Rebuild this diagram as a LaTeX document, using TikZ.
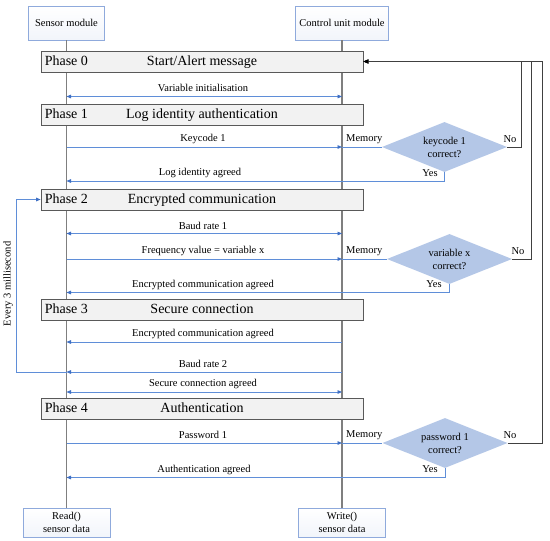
\documentclass[tikz,border=0pt]{standalone}
\usepackage{fontspec}
\setmainfont{Liberation Serif}
\usetikzlibrary{arrows.meta,shapes.geometric}
\definecolor{msgblue}{HTML}{5F8ED8}
\definecolor{tipblue}{HTML}{3E6FC4}
\definecolor{dia}{HTML}{B4C7E7}
\definecolor{barfill}{HTML}{F2F2F2}
\definecolor{bardraw}{HTML}{595959}
\definecolor{life}{HTML}{7F7F7F}
\definecolor{boxblue}{HTML}{8FAADC}
\definecolor{loopgray}{HTML}{404040}
\begin{document}
\begin{tikzpicture}[x=1pt,y=-1pt,
  module/.style={draw=boxblue, line width=0.9pt, top color=white, bottom color=boxblue!12,
     minimum height=34pt, align=center, inner sep=0pt, font=\fontsize{10.5}{12.5}\selectfont},
  phasebar/.style={draw=bardraw, fill=barfill, line width=0.8pt, minimum width=322pt,
     minimum height=21pt, inner sep=0pt},
  phtxt/.style={font=\fontsize{14}{16}\selectfont, inner sep=0pt, text height=10pt, text depth=3pt},
  lbl/.style={font=\fontsize{10.5}{12}\selectfont, inner sep=0pt},
  lifeline/.style={draw=life, line width=1.1pt},
  msg/.style={draw=msgblue, line width=0.9pt},
  tip/.style={-{Triangle[length=4.5pt,width=3.6pt,color=tipblue]}},
  btip/.style={{Triangle[length=4.5pt,width=3.6pt,color=tipblue]}-{Triangle[length=4.5pt,width=3.6pt,color=tipblue]}},
  decision/.style={diamond, shape aspect=2.5, fill=dia, minimum width=125pt, minimum height=50pt,
     inner sep=0pt, align=center, font=\fontsize{10.5}{13}\selectfont},
  noloop/.style={draw=loopgray, line width=0.9pt, -{Triangle[length=5pt,width=4pt,color=black]}}
]
\useasboundingbox (0,0) rectangle (550,541);

% modules
\node[module, minimum width=76pt] (sm) at (66.5,23) {Sensor module};
\node[module, minimum width=93pt] (cm) at (342,23) {Control unit module};
\node[module, minimum width=87pt, minimum height=29pt] (rd) at (66.5,522.5) {Read()\\sensor data};
\node[module, minimum width=87pt, minimum height=29pt] (wr) at (342,522.5) {Write()\\sensor data};

% lifelines
\draw[lifeline] (sm.south) -- (rd.north);
\draw[lifeline] (cm.south) -- (wr.north);

% phase bars
\node[phasebar] (ph0) at (202,61.5) {};
\node[phasebar] (ph1) at (202,114.5) {};
\node[phasebar] (ph2) at (202,199.5) {};
\node[phasebar] (ph3) at (202,310) {};
\node[phasebar] (ph4) at (202,409) {};
\node[phtxt, anchor=west] (ph0l) at ([xshift=4pt]ph0.west) {Phase 0};
\node[phtxt] (ph0t) at (202,61.5) {Start/Alert message};
\node[phtxt, anchor=west] (ph1l) at ([xshift=4pt]ph1.west) {Phase 1};
\node[phtxt] (ph1t) at (202,114.5) {Log identity authentication};
\node[phtxt, anchor=west] (ph2l) at ([xshift=4pt]ph2.west) {Phase 2};
\node[phtxt] (ph2t) at (202,199.5) {Encrypted communication};
\node[phtxt, anchor=west] (ph3l) at ([xshift=4pt]ph3.west) {Phase 3};
\node[phtxt] (ph3t) at (202,310) {Secure connection};
\node[phtxt, anchor=west] (ph4l) at ([xshift=4pt]ph4.west) {Phase 4};
\node[phtxt] (ph4t) at (202,409) {Authentication};

% lifeline points
\foreach \n/\y in {vi/96.5, kc/147, la/181, b1/233.5, fv/259, ec/292.5, ed/342, b2/372, sc/392, pw/443, au/477.5}{
  \coordinate (\n S) at (66.5,\y);
  \coordinate (\n C) at (342,\y);
}

% decisions
\node[decision] (d1) at (444.5,147) {keycode 1\\correct?};
\node[decision] (d2) at (449.5,259) {variable x\\correct?};
\node[decision] (d3) at (445,443) {password 1\\correct?};

% Phase 0
\draw[msg, btip] (viS) -- (viC);
\node[lbl] (t1) at (203,88) {Variable initialisation};

% Phase 1
\draw[msg, tip] (kcS) -- (kcC);
\draw[msg] (kcC) -- (d1.west);
\node[lbl] (t2) at (203,139) {Keycode 1};
\node[lbl, anchor=west] (m1) at (346,139) {Memory};
\draw[msg, tip] (d1.south) |- (laS);
\node[lbl] (t3) at (200,172.5) {Log identity agreed};
\node[lbl] (y1) at (430,173) {Yes};
\node[lbl] (n1) at (510,139) {No};

% Phase 2
\draw[msg, btip] (b1S) -- (b1C);
\node[lbl] (t4) at (203,225.5) {Baud rate 1};
\draw[msg, tip] (fvS) -- (fvC);
\draw[msg] (fvC) -- (d2.west);
\node[lbl] (t5) at (203,251) {Frequency value = variable x};
\node[lbl, anchor=west] (m2) at (346,251) {Memory};
\draw[msg, tip] (d2.south) |- (ecS);
\node[lbl] (t6) at (203,284.5) {Encrypted communication agreed};
\node[lbl] (y2) at (434,284.5) {Yes};
\node[lbl] (n2) at (518,251) {No};

% Phase 3
\draw[msg, tip] (edC) -- (edS);
\node[lbl] (t7) at (203,334) {Encrypted communication agreed};
\draw[msg, tip] (b2C) -- (b2S);
\node[lbl] (t8) at (203,364) {Baud rate 2};
\draw[msg, btip] (scS) -- (scC);
\node[lbl] (t9) at (203,384) {Secure connection agreed};
\draw[msg, tip] (b2S) -- ++(-50.5,0) |- (ph2.west);
\node[lbl, rotate=90] (ev) at (8,284) {Every 3 millisecond};

% Phase 4
\draw[msg, tip] (pwS) -- (pwC);
\draw[msg] (pwC) -- (d3.west);
\node[lbl] (t10) at (203,435) {Password 1};
\node[lbl, anchor=west] (m3) at (346,435) {Memory};
\draw[msg, tip] (d3.south) |- (auS);
\node[lbl] (t11) at (204,470) {Authentication agreed};
\node[lbl] (y3) at (430,469.5) {Yes};
\node[lbl] (n3) at (510,435) {No};

% No loops
\draw[noloop] (d3.east) -- ++(34.5,0) |- (ph0.east);
\draw[noloop] (d2.east) -- ++(19,0) |- (ph0.east);
\draw[noloop] (d1.east) -- ++(14.5,0) |- (ph0.east);
\end{tikzpicture}
\end{document}
